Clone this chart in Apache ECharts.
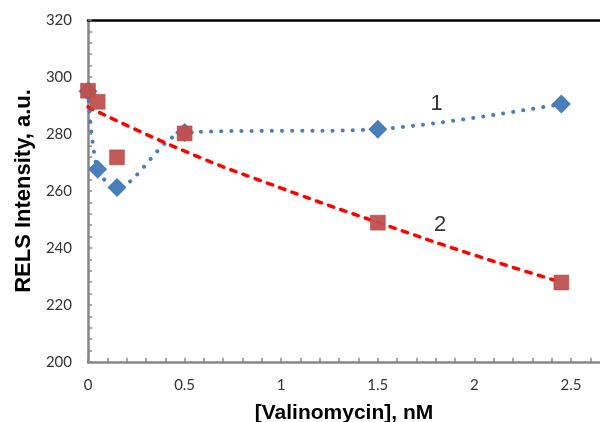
<!DOCTYPE html>
<html>
<head>
<meta charset="utf-8">
<style>
  html, body { margin: 0; padding: 0; background: #fff; }
  #chart { width: 600px; height: 422px; }
</style>
<script src="https://cdn.jsdelivr.net/npm/echarts@6/dist/echarts.min.js"></script>
</head>
<body>
<div id="chart"></div>
<script>
  // curve 1 (blue diamonds) and curve 2 (red squares)
  var conc = [0, 0.05, 0.15, 0.5, 1.5, 2.45];
  var rels1 = [295, 267.6, 261.2, 280.5, 281.7, 290.5];
  var rels2 = [295.2, 291.3, 271.8, 280.2, 248.9, 227.9];
  // red dashed trend line
  var trendConc = [0, 0.5, 1, 1.5, 2, 2.45];
  var trendRels = [289.5, 274, 261, 249, 237.5, 228];
  // curve labels
  var labelText = ['1', '2'];
  var labelConc = [1.805, 1.822];
  var labelRels = [290.7, 248];
  var yTicks = [200, 220, 240, 260, 280, 300, 320];

  function pairs(xs, ys) {
    return xs.map(function (x, i) { return [x, ys[i]]; });
  }

  var chart = echarts.init(document.getElementById('chart'));
  var grey = '#868686';

  var option = {
    animation: false,
    backgroundColor: '#fff',
    grid: { left: 88, right: 0, top: 20, bottom: 60, outerBoundsMode: 'none' },
    xAxis: [
      {
        type: 'value',
        min: 0,
        max: 2.65,
        interval: 0.1,
        name: '[Valinomycin], nM',
        nameLocation: 'middle',
        nameGap: 41,
        nameTextStyle: {
          fontFamily: 'Liberation Sans',
          fontWeight: 'bold',
          fontSize: 21,
          color: '#000'
        },
        axisLine: { lineStyle: { color: grey, width: 2.5 } },
        axisTick: { inside: true, length: 4, lineStyle: { color: grey, width: 1.5 } },
        axisLabel: {
          margin: 16,
          fontFamily: 'Lato',
          fontSize: 15,
          color: '#333',
          showMaxLabel: false,
          formatter: function (v) {
            return Math.abs(v * 2 - Math.round(v * 2)) < 1e-6 ? String(Math.round(v * 2) / 2) : '';
          }
        },
        splitLine: { show: false }
      },
      {
        type: 'value',
        position: 'top',
        min: 0,
        max: 2.65,
        axisLine: { show: true, lineStyle: { color: '#000', width: 2.5 } },
        axisTick: { show: false },
        axisLabel: { show: false },
        splitLine: { show: false }
      }
    ],
    yAxis: {
      type: 'value',
      min: yTicks[0],
      max: yTicks[yTicks.length - 1],
      interval: 20,
      name: 'RELS Intensity, a.u.',
      nameLocation: 'middle',
      nameGap: 52,
      nameTextStyle: {
        fontFamily: 'Liberation Sans',
        fontWeight: 'bold',
        fontSize: 22,
        color: '#000'
      },
      axisLine: { show: true, lineStyle: { color: grey, width: 2.5 } },
      axisTick: { show: true, inside: true, length: 4, lineStyle: { color: grey, width: 1.5 } },
      minorTick: { show: true, splitNumber: 5, length: 4, lineStyle: { color: grey, width: 1.5 } },
      axisLabel: { margin: 16, fontFamily: 'Lato', fontSize: 15, color: '#333' },
      splitLine: { show: false }
    },
    series: [
      {
        name: '1',
        type: 'line',
        data: pairs(conc, rels1),
        smooth: 0.3,
        symbol: 'diamond',
        symbolSize: 19,
        itemStyle: { color: '#4A7EBB' },
        lineStyle: { color: '#4A7EBB', width: 4, type: [0.1, 10], cap: 'round' },
        z: 2
      },
      {
        name: 'trend 2',
        type: 'line',
        data: pairs(trendConc, trendRels),
        smooth: true,
        symbol: 'none',
        lineStyle: { color: '#FF0000', width: 3.5, type: [5.5, 7.5], cap: 'round' },
        z: 3
      },
      {
        name: '2',
        type: 'scatter',
        data: pairs(conc, rels2),
        symbol: 'rect',
        symbolSize: 15,
        itemStyle: { color: '#C0504D', borderColor: '#B04542', borderWidth: 0.5, opacity: 0.95 },
        z: 4
      },
      {
        name: 'labels',
        type: 'scatter',
        data: labelConc.map(function (x, i) {
          return { value: [x, labelRels[i]], label: { formatter: labelText[i] } };
        }),
        symbolSize: 0,
        silent: true,
        label: {
          show: true,
          position: 'inside',
          fontFamily: 'Liberation Sans',
          fontSize: 22,
          color: '#000'
        },
        z: 5
      }
    ]
  };

  chart.setOption(option);
</script>
</body>
</html>
